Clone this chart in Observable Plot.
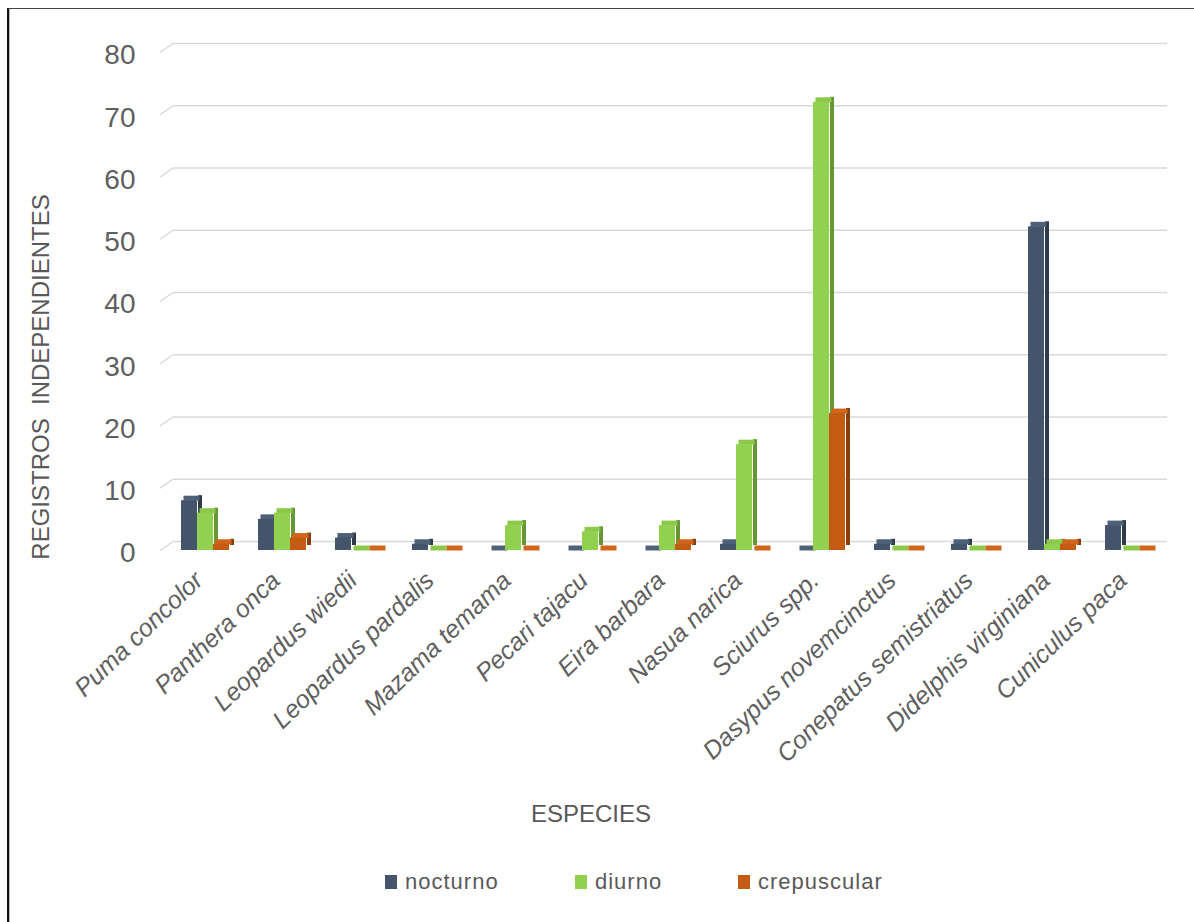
<!DOCTYPE html>
<html>
<head>
<meta charset="utf-8">
<script src="https://cdn.jsdelivr.net/npm/d3@7"></script>
<script src="https://cdn.jsdelivr.net/npm/@observablehq/plot@0.6"></script>
<style>
  html, body { margin: 0; padding: 0; background: #fff; }
  #page { position: relative; width: 1194px; height: 922px; overflow: hidden; font-family: "Liberation Sans", Arial, sans-serif; color: #595959; }
  #frame { position: absolute; left: 7px; top: 8px; right: -2px; bottom: -2px; border-left: 2px solid #111; border-top: 1px solid #444; box-shadow: inset 1px 0 0 #bbb; }
  #chart { position: absolute; left: 0; top: 0; }
  #ytitle { position: absolute; left: 41px; top: 377px; transform: translate(-50%, -50%) rotate(-90deg); font-size: 24px; white-space: pre; }
  #xtitle { position: absolute; left: 591px; top: 814px; transform: translate(-50%, -50%); font-size: 24px; }
  #legend { position: absolute; top: 869px; left: 0; width: 1194px; height: 26px; font-size: 22px; letter-spacing: 1px; }
  .li { position: absolute; top: 0; display: flex; align-items: center; height: 26px; }
  .sw { width: 12px; height: 14px; margin-right: 8px; }
</style>
</head>
<body>
<div id="page">
  <div id="frame"></div>
  <div id="chart"></div>
  <div id="ytitle">REGISTROS  INDEPENDIENTES</div>
  <div id="xtitle">ESPECIES</div>
  <div id="legend"></div>
</div>
<script>
const especies = ["Puma concolor", "Panthera onca", "Leopardus wiedii", "Leopardus pardalis", "Mazama temama", "Pecari tajacu", "Eira barbara", "Nasua narica", "Sciurus spp.", "Dasypus novemcinctus", "Conepatus semistriatus", "Didelphis virginiana", "Cuniculus paca"];
const nocturno    = [8, 5, 2, 1, 0, 0, 0, 1, 0, 1, 1, 52, 4];
const diurno      = [6, 6, 0, 0, 4, 3, 4, 17, 72, 0, 0, 1, 0];
const crepuscular = [1, 2, 0, 0, 0, 0, 1, 0, 22, 0, 0, 1, 0];
const series = ["nocturno", "diurno", "crepuscular"];
const yTicks = [0, 10, 20, 30, 40, 50, 60, 70, 80];

const colorFront = ["#44546A", "#92D050", "#C55A11"];
const colorSide  = ["#2F3B4B", "#659734", "#8A3E0B"];
const colorTop   = ["#4F6079", "#8CC84A", "#D0651C"];

const valores = {nocturno, diurno, crepuscular};
const data = especies.flatMap((e, i) => series.map(s => ({especie: e, serie: s, valor: valores[s][i]})));

// gridline rows: first facet separately (starts after the slanted corner)
const gridFirst = yTicks.map(t => ({especie: especies[0], y: t}));
const gridRest = especies.slice(1).flatMap(e => yTicks.map(t => ({especie: e, y: t})));

const slant = {draw(context) { context.moveTo(-6.5, 4.5); context.lineTo(6.5, -4.5); }};

const depth = 5;
const gridStyle = {stroke: "#d9d9d9", strokeWidth: 1.5, dy: -9};
const marks = [
  Plot.ruleY(gridFirst, {fx: "especie", y: "y", ...gridStyle, insetLeft: 7}),
  Plot.ruleY(gridRest, {fx: "especie", y: "y", ...gridStyle}),
  Plot.dot(gridFirst, {fx: "especie", y: "y", frameAnchor: "left", symbol: slant, stroke: "#d9d9d9", strokeWidth: 1.5, fill: "none", dy: -4.5}),
  Plot.axisY(yTicks, {tickSize: 0, tickPadding: 31, fontSize: 28, dy: 3, label: null, fill: "#5f5f5f"}),
  Plot.axisFx({anchor: "bottom", tickRotate: -44, tickSize: 0, tickPadding: 26, dx: -6, fontSize: 25, fontStyle: "italic", label: null, fill: "#5f5f5f"})
];
series.forEach((s, k) => {
  const d = data.filter(r => r.serie === s);
  marks.push(
    Plot.barY(d, {fx: "especie", x: "serie", y: "valor", fill: colorSide[k], dx: 17, insetRight: 17 - depth, dy: -depth}),
    Plot.tickY(d, {fx: "especie", x: "serie", y: "valor", stroke: colorTop[k], strokeWidth: depth, dx: depth / 2, dy: -depth / 2}),
    Plot.barY(d, {fx: "especie", x: "serie", y: "valor", fill: colorFront[k]})
  );
});

const chart = Plot.plot({
  width: 1194,
  height: 840,
  marginLeft: 161,
  marginRight: 23,
  marginTop: 52,
  marginBottom: 290,
  style: {fontFamily: "'Liberation Sans', Arial, sans-serif", color: "#595959", background: "transparent"},
  fx: {domain: especies, padding: 0},
  x: {domain: series, axis: null, paddingInner: 0, paddingOuter: 0.79},
  y: {domain: [0, 80], axis: null},
  marks
});
document.getElementById("chart").appendChild(chart);

const legendPos = [385, 575, 738];
const leg = document.getElementById("legend");
series.forEach((s, k) => {
  const item = document.createElement("div");
  item.className = "li";
  item.style.left = legendPos[k] + "px";
  item.innerHTML = `<div class="sw" style="background:${colorFront[k]}"></div><span>${s}</span>`;
  leg.appendChild(item);
});
</script>
</body>
</html>
